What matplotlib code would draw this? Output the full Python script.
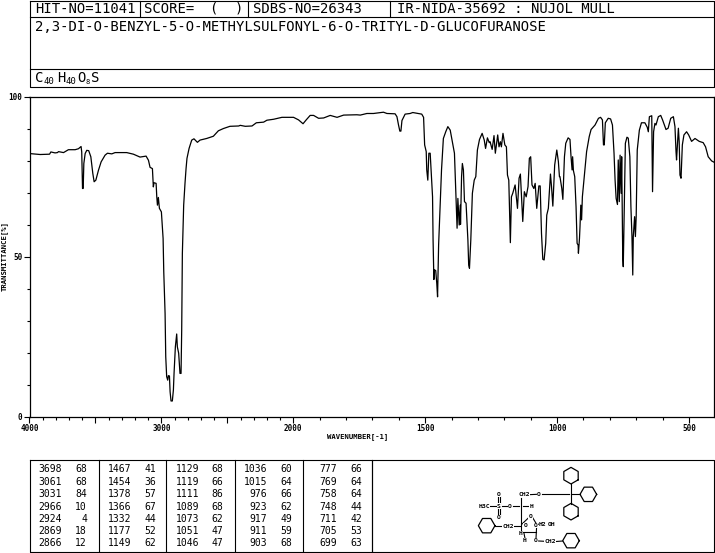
import matplotlib
matplotlib.use('Agg')
import matplotlib.pyplot as plt
import numpy as np

MONO = 'DejaVu Sans Mono'

hit_no = 'HIT-NO=11041'
score = 'SCORE='
sdbs_no = 'SDBS-NO=26343'
sample = 'IR-NIDA-35692 : NUJOL MULL'
compound = '2,3-DI-O-BENZYL-5-O-METHYLSULFONYL-6-O-TRITYL-D-GLUCOFURANOSE'

# spectrum
wn_a = [4000, 3919, 3848, 3838, 3806, 3788, 3780, 3742, 3705, 3654, 3629, 3609, 3604, 3598, 3593, 3588, 3578, 3566, 3551, 3535,
        3520, 3510, 3497, 3477, 3457, 3427, 3409, 3376, 3351, 3263, 3212, 3162, 3116, 3098, 3086, 3068, 3061, 3056, 3040, 3035,
        3030, 3023, 3015, 3000, 2987, 2982, 2972, 2967, 2960, 2952, 2947, 2939, 2934, 2927, 2917, 2909, 2904, 2894, 2884, 2879,
        2869, 2859, 2851, 2846, 2841, 2831, 2821, 2813, 2806, 2790, 2770, 2753, 2727, 2707, 2657, 2606, 2568, 2530, 2480, 2414]
tr_a = [82.2, 81.9, 82.0, 82.7, 82.4, 82.5, 82.8, 82.5, 83.4, 83.4, 83.7, 84.4, 82.7, 71.3, 71.3, 79.1, 82.2, 83.2, 83.1, 81.2,
        76.0, 73.4, 73.9, 77.0, 79.6, 81.7, 82.3, 82.1, 82.5, 82.5, 82.0, 81.1, 81.4, 80.1, 77.9, 77.5, 71.8, 73.1, 72.9, 68.7,
        66.1, 68.5, 65.1, 64.0, 55.7, 45.3, 32.3, 18.8, 12.6, 11.5, 12.9, 12.8, 7.9, 5.0, 5.0, 8.4, 13.6, 21.9, 25.9, 21.9,
        19.9, 13.6, 13.6, 27.1, 51.0, 66.1, 72.9, 77.5, 80.7, 83.8, 86.4, 86.8, 85.7, 86.4, 86.9, 87.6, 89.3, 90.0, 90.7, 90.8]

wn_b = [2402, 2364, 2313, 2280, 2225, 2200, 2149, 2086, 1999, 1980, 1963, 1951, 1936, 1923, 1904, 1885, 1860, 1834, 1809, 1759,
        1746, 1721, 1696, 1658, 1645, 1614, 1607, 1601, 1596, 1592, 1588, 1576, 1557]
tr_b = [91.0, 90.7, 90.8, 91.8, 92.0, 92.6, 92.9, 93.5, 93.5, 92.7, 91.5, 92.7, 94.1, 94.1, 93.2, 93.3, 94.1, 93.5, 94.2, 94.3,
        94.2, 94.7, 94.7, 95.1, 94.7, 94.6, 93.7, 91.1, 89.2, 89.2, 92.5, 94.5, 94.7]

wn_c = [1547, 1513, 1506, 1502, 1496, 1494, 1490, 1486, 1481, 1477, 1472, 1470, 1467, 1465, 1460, 1456, 1453, 1449, 1444, 1438,
        1431, 1422, 1414, 1405, 1396, 1389, 1383, 1379, 1376, 1371, 1367, 1366, 1362, 1359, 1355, 1351, 1345, 1338, 1335, 1332,
        1327, 1321, 1314, 1308, 1302, 1294, 1284, 1276, 1271, 1264, 1257, 1254, 1246, 1239, 1234, 1225, 1220, 1215, 1211, 1205,
        1198, 1192, 1188, 1183, 1179, 1177, 1173, 1168, 1159, 1150, 1144, 1139, 1134, 1130, 1124, 1117, 1110, 1105, 1100, 1095,
        1088, 1083, 1077, 1069, 1064, 1059, 1054, 1049, 1043, 1039, 1033, 1025, 1021, 1016, 1009, 1001, 995, 991]
tr_c = [95.0, 94.5, 93.5, 84.9, 82.8, 77.1, 73.9, 82.3, 82.3, 76.5, 68.7, 55.2, 42.9, 45.9, 45.7, 41.7, 37.5, 53.7, 64.1, 77.1,
        86.9, 89.0, 90.6, 89.5, 85.4, 82.3, 68.7, 58.9, 68.2, 59.9, 66.1, 60.1, 75.0, 79.1, 77.1, 67.2, 66.7, 55.2, 47.4, 46.4,
        55.2, 69.8, 73.9, 75.0, 83.3, 86.6, 88.5, 86.4, 83.8, 87.1, 85.6, 85.9, 83.5, 87.8, 82.3, 88.0, 84.3, 85.9, 84.3, 88.5,
        84.9, 84.3, 75.5, 73.9, 61.5, 54.4, 68.7, 69.8, 72.4, 65.1, 74.5, 75.8, 67.7, 61.0, 70.3, 68.7, 71.9, 80.7, 81.2, 72.4,
        71.3, 72.9, 65.1, 72.1, 72.1, 57.3, 49.2, 49.0, 54.2, 63.0, 65.1, 75.8, 71.9, 65.8, 78.6, 83.3, 79.7, 75.0]

wn_d = [989, 982, 978, 972, 967, 958, 951, 947, 943, 941, 938, 933, 928, 924, 920, 919, 915, 913, 910, 907,
        904, 898, 888, 878, 871, 856, 843, 835, 828, 824, 821, 817, 806, 797, 790, 784, 780, 776, 771, 768,
        764, 761, 757, 755, 751, 749, 746, 741, 735, 730, 724, 720, 716, 713, 711, 706, 703, 700, 696, 688,
        680, 667, 658, 654, 650, 641, 638, 634, 629, 625, 616, 607, 600, 587, 579, 569, 559, 553, 549, 547,
        540, 537, 534, 530, 525, 519, 509, 501, 490, 477, 461, 446, 437, 427, 414, 405]
tr_d = [75.0, 71.3, 67.9, 81.2, 85.4, 87.1, 86.6, 81.2, 77.1, 81.2, 76.9, 75.0, 65.6, 54.2, 53.6, 51.1, 55.7, 59.4, 66.1, 61.5,
        68.7, 73.9, 82.8, 87.5, 89.7, 91.1, 93.2, 93.5, 92.7, 84.9, 84.9, 91.8, 93.2, 93.0, 91.1, 82.3, 73.9, 68.2, 66.3, 80.2,
        67.2, 81.7, 69.8, 81.2, 50.0, 46.9, 61.5, 85.4, 87.3, 87.0, 81.2, 65.6, 56.3, 44.3, 56.3, 62.5, 56.3, 62.5, 83.3, 89.5,
        91.8, 91.8, 90.4, 89.0, 93.7, 94.0, 70.3, 89.0, 91.6, 91.1, 93.7, 94.1, 92.7, 89.7, 90.1, 93.2, 93.7, 90.6, 82.8, 80.2,
        90.1, 85.9, 75.5, 74.5, 84.9, 88.0, 89.0, 88.0, 86.0, 86.9, 86.0, 85.6, 84.3, 81.2, 79.9, 79.5]

# peak table, five columns of seven rows
peak_wn = [[3698, 3061, 3031, 2966, 2924, 2869, 2866],
           [1467, 1454, 1378, 1366, 1332, 1177, 1149],
           [1129, 1119, 1111, 1089, 1073, 1051, 1046],
           [1036, 1015, 976, 923, 917, 911, 903],
           [777, 769, 758, 748, 711, 705, 699]]
peak_tr = [[68, 68, 84, 10, 4, 18, 12],
           [41, 36, 57, 67, 44, 52, 62],
           [68, 66, 86, 68, 62, 47, 47],
           [60, 64, 66, 62, 49, 59, 68],
           [66, 64, 64, 44, 42, 53, 63]]


def wn_to_pos(w):
    # the wavenumber scale doubles below 2000
    w = np.asarray(w, dtype=float)
    return np.where(w >= 2000, w - 2000, (w - 2000) * 2)


def pos_to_wn(p):
    p = np.asarray(p, dtype=float)
    return np.where(p >= 0, p + 2000, p / 2 + 2000)


def draw_frame(bg, x0, y0, x1, y1):
    bg.plot([x0, x1, x1, x0, x0], [y0, y0, y1, y1, y0], color='k', lw=0.8, clip_on=False)


def draw_hexagon(bg, cx, cy, r, start):
    ang = np.radians(start + np.arange(7) * 60)
    bg.plot(cx + r * np.cos(ang), cy + r * np.sin(ang), color='k', lw=0.9)


def draw_structure(bg):
    # coordinates are relative to the box, in thirds of a pixel
    def sx(v):
        return 440 + np.asarray(v) / 3

    def sy(v):
        return 455 + np.asarray(v) / 3

    for cx, cy, start in [(393, 62, 30), (445, 118, 0), (393, 170, 30), (140, 212, 0), (393, 257, 0)]:
        draw_hexagon(bg, sx(cx), sy(cy), 8.3, start)
    bonds = [(393, 86, 393, 146), (393, 117, 420, 117), (305, 117, 388, 117), (268, 119, 290, 118),
             (242, 128, 242, 240), (218, 153, 236, 153), (248, 153, 268, 153), (185, 153, 203, 153),
             (148, 153, 170, 153), (173, 124, 173, 146), (180, 124, 180, 146), (173, 160, 173, 182),
             (180, 160, 180, 182), (165, 212, 190, 212), (218, 212, 240, 212), (245, 208, 266, 188),
             (278, 188, 290, 208), (290, 212, 288, 250), (248, 232, 288, 232), (296, 258, 316, 259),
             (342, 260, 368, 258), (252, 235, 255, 250), (292, 208, 300, 207)]
    for x0, y0, x1, y1 in bonds:
        bg.plot(sx([x0, x1]), sy([y0, y1]), color='k', lw=0.8)
    labels = [(297, 117, 'O'), (252, 119, 'CH2'), (275, 153, 'H'), (210, 153, 'O'), (177, 153, 'S'),
              (133, 153, 'H3C'), (177, 117, 'O'), (177, 188, 'O'), (205, 213, 'CH2'), (256, 212, 'O'),
              (272, 185, 'O'), (288, 212, 'O'), (255, 258, 'H'), (243, 235, 'H'), (288, 258, 'O'),
              (330, 260, 'CH2'), (308, 207, 'H2'), (336, 207, 'OH')]
    for x, y, s in labels:
        bg.text(sx(x), sy(y), s, family=MONO, fontsize=4.6, weight='bold', ha='center', va='center',
                bbox=dict(fc='w', ec='none', pad=0.2))


fig = plt.figure(figsize=(7.15, 5.53), dpi=100)

# full figure layer in pixels for boxes and text
bg = fig.add_axes([0, 0, 1, 1])
bg.set_xlim(0, 715)
bg.set_ylim(553, 0)
bg.axis('off')

draw_frame(bg, 29.5, 0.5, 714, 87)
for y in [17, 69]:
    bg.plot([29.5, 714], [y, y], color='k', lw=0.8)
for x in [140, 248, 390]:
    bg.plot([x, x], [0.5, 17], color='k', lw=0.8)

head = dict(family=MONO, fontsize=10, va='center', ha='left')
bg.text(35, 9, hit_no, **head)
bg.text(144, 9, score, **head)
bg.text(209, 9, '(', **head)
bg.text(235, 9, ')', **head)
bg.text(253, 9, sdbs_no, **head)
bg.text(397, 9, sample, **head)
bg.text(35, 27, compound, **head)

# formula C40H40O8S
for x, s in [(35, 'C'), (57, 'H'), (77, 'O'), (91, 'S')]:
    bg.text(x, 78, s, **head)
for x, s, size in [(44, '40', 6.5), (65, '40', 6.5), (85, '8', 5)]:
    bg.text(x, 82, s, family=MONO, fontsize=size, va='center', ha='left')

# peak table
draw_frame(bg, 29.5, 460, 372, 552)
for x in [98.7, 166, 235, 303]:
    bg.plot([x, x], [460, 552], color='k', lw=0.8)
wn_right = [62, 131, 199, 267, 337]
tr_right = [87, 156, 223, 292, 362]
row_y = [469, 481.7, 494, 507, 519, 531, 543]
for c in range(len(peak_wn)):
    for r in range(len(row_y)):
        bg.text(wn_right[c], row_y[r], str(peak_wn[c][r]), family=MONO, fontsize=7, ha='right', va='center')
        bg.text(tr_right[c], row_y[r], str(peak_tr[c][r]), family=MONO, fontsize=7, ha='right', va='center')

# structure box
draw_frame(bg, 372, 460, 714, 552)
draw_structure(bg)

# spectrum
ax = fig.add_axes([29.5 / 715, 1 - 417 / 553, 684.5 / 715, 320.5 / 553])
ax.patch.set_alpha(0)
ax.set_xscale('function', functions=(wn_to_pos, pos_to_wn))
ax.set_xlim(4000, 405)
ax.set_ylim(0, 100)
ax.plot(wn_a + wn_b + wn_c + wn_d, tr_a + tr_b + tr_c + tr_d, color='k', lw=0.9)

ax.set_xticks([4000, 3500, 3000, 2500, 2000, 1500, 1000, 500])
ax.set_xticks([w for w in range(3900, 400, -100) if w % 500 != 0], minor=True)
ax.set_xticklabels(['4000', '', '3000', '', '2000', '1500', '1000', '500'], family=MONO, fontsize=5.5, weight='bold')
ax.set_yticks([0, 50, 100])
ax.set_yticks(range(10, 100, 10), minor=True)
ax.set_yticklabels(['0', '50', '100'], family=MONO, fontsize=5.5, weight='bold')
ax.tick_params(which='major', length=4, width=0.8, pad=1.2)
ax.tick_params(which='minor', length=2, width=0.8)
for s in ax.spines.values():
    s.set_linewidth(0.9)

bg.text(327, 437, 'WAVENUMBER[-1]', family=MONO, fontsize=5.2, weight='bold', ha='left', va='center')
bg.text(4, 256, 'TRANSMITTANCE[%]', family=MONO, fontsize=5.2, weight='bold', rotation=90, ha='center', va='center')

fig.savefig('out.png', dpi=100)
